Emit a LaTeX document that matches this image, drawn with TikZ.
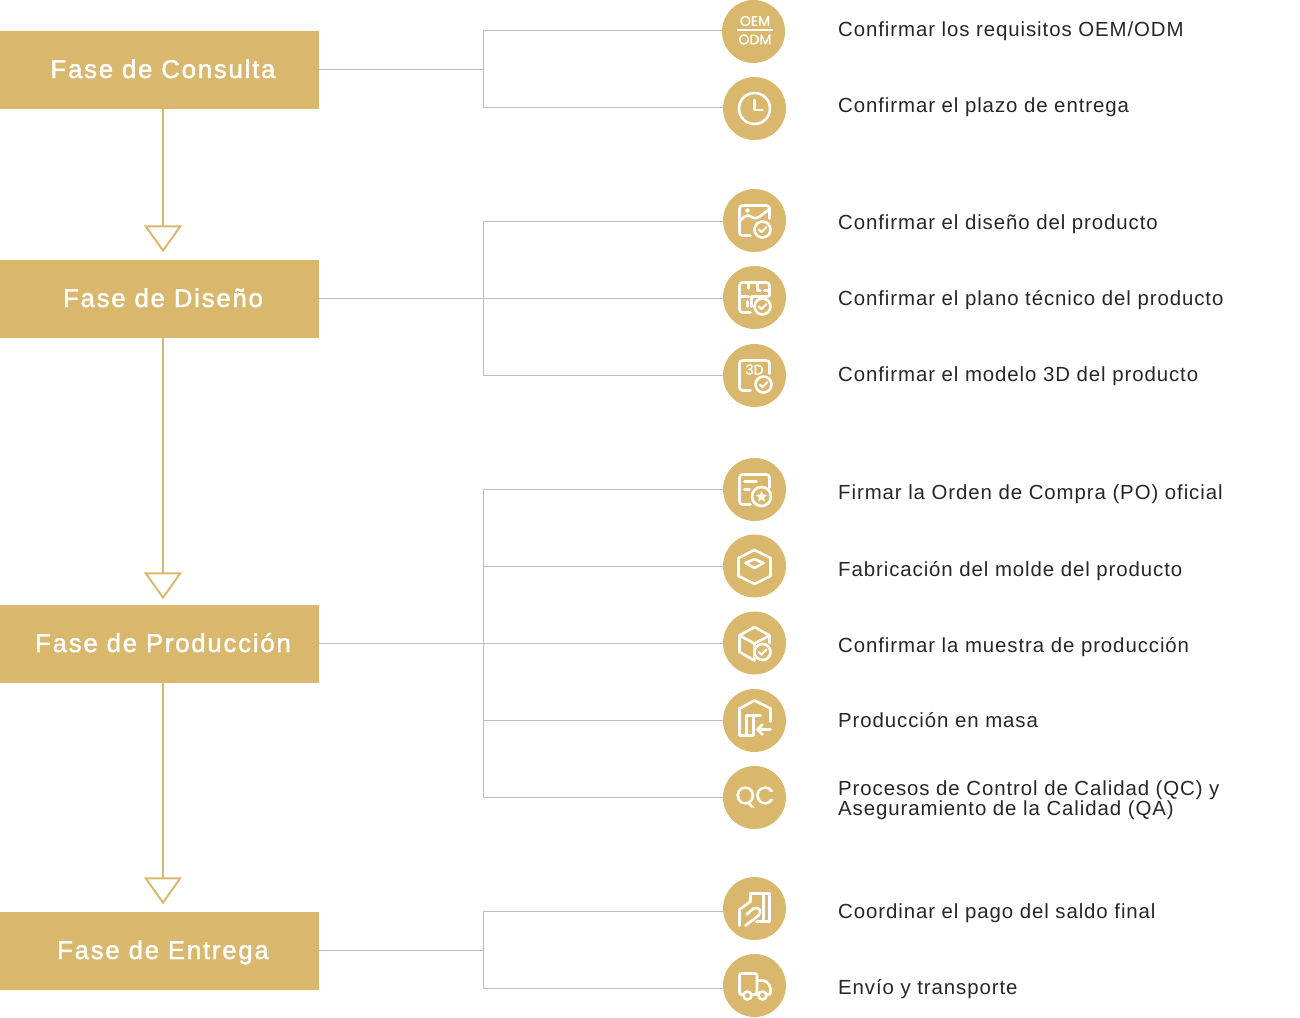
\documentclass[tikz,border=0pt]{standalone}
\usepackage{fontspec}
\setmainfont{Liberation Sans}
\newfontfamily\faseFont[LetterSpace=7,FakeBold=1.6]{Liberation Sans}
\newfontfamily\pasoFont[LetterSpace=4.5]{Liberation Sans}
\newfontfamily\iconFont[FakeBold=1.2]{Poppins}
\usetikzlibrary{arrows.meta,calc}
\definecolor{oro}{HTML}{D9B86D}
\definecolor{gris}{HTML}{BDBDBD}
\tikzstyle{fase}=[fill=oro,text=white,minimum width=319pt,minimum height=78pt,inner sep=0pt,text height=20pt,text depth=4pt,execute at begin node={\hspace*{7pt}},font=\faseFont\fontsize{25.7}{25.7}\selectfont]
\tikzstyle{paso}=[circle,fill=oro,minimum size=63pt,inner sep=0pt]
\tikzstyle{texto}=[anchor=base west,inner sep=0pt,align=left,text=black!85,font=\pasoFont\fontsize{20.4}{20.4}\selectfont]
\tikzstyle{rama}=[gris,line width=1pt]
\tikzstyle{flecha}=[oro,line width=2pt,-{Triangle[open,length=27pt,width=38pt,line width=2pt]}]
\tikzstyle{trazo}=[white,line width=2.6pt,line cap=round,line join=round]
\newcommand{\ramaPaso}[3]{
	\draw[rama] (#1) |- (#2.west |- 0,#3);
}
\newcommand{\marcaOk}[3]{
	\draw[trazo] (#1,#2) circle (#3);
	\draw[trazo,line width=2pt] ($(#1,#2)+(-3.6,0)$) -- ($(#1,#2)+(-1,2.6)$) -- ($(#1,#2)+(3.8,-2.4)$);
}
\newcommand{\hoja}{
	\draw[trazo,rounded corners=3pt] (15,-2) -- (15,-15) -- (-15,-15) -- (-15,15) -- (-4,15);
}
\begin{document}
\begin{tikzpicture}[x=1pt,y=-1pt]
	\useasboundingbox (0,0) rectangle (1300,1017);
	% fases
	\node[fase] (consulta) at (159.5,70) {Fase de Consulta};
	\node[fase] (diseno) at (159.5,299) {Fase de Diseño};
	\node[fase] (produccion) at (159.5,644) {Fase de Producción};
	\node[fase] (entrega) at (159.5,951) {Fase de Entrega};
	\draw[flecha,shorten >=7.5pt] (consulta.south -| 163,0) -- (diseno.north -| 163,0);
	\draw[flecha,shorten >=5.5pt] (diseno.south -| 163,0) -- (produccion.north -| 163,0);
	\draw[flecha,shorten >=7.5pt] (produccion.south -| 163,0) -- (entrega.north -| 163,0);
	% circulos
	\node[paso] (oem) at (753.5,31.5) {};
	\node[paso] (plazo) at (754.5,108.5) {};
	\node[paso] (imagen) at (754.5,220.5) {};
	\node[paso] (plano) at (754.5,297.5) {};
	\node[paso] (modelo) at (754.5,375.5) {};
	\node[paso] (orden) at (754.5,489.5) {};
	\node[paso] (molde) at (754.5,566) {};
	\node[paso] (muestra) at (754.5,643) {};
	\node[paso] (masa) at (754.5,720.5) {};
	\node[paso] (qc) at (754.5,797.5) {};
	\node[paso] (pago) at (754.5,908.5) {};
	\node[paso] (envio) at (754.5,985.5) {};
	% ramas
	\coordinate (r1) at (483,69);
	\coordinate (r2) at (483,298);
	\coordinate (r3) at (483,643);
	\coordinate (r4) at (483,950);
	\draw[rama] (consulta.east |- r1) -- (r1);
	\draw[rama] (diseno.east |- r2) -- (r2);
	\draw[rama] (produccion.east |- r3) -- (r3);
	\draw[rama] (entrega.east |- r4) -- (r4);
	\ramaPaso{r1}{oem}{30}
	\ramaPaso{r1}{plazo}{107}
	\ramaPaso{r2}{imagen}{221}
	\ramaPaso{r2}{plano}{298}
	\ramaPaso{r2}{modelo}{375}
	\ramaPaso{r3}{orden}{489}
	\ramaPaso{r3}{molde}{566}
	\ramaPaso{r3}{muestra}{643}
	\ramaPaso{r3}{masa}{720}
	\ramaPaso{r3}{qc}{797}
	\ramaPaso{r4}{pago}{911}
	\ramaPaso{r4}{envio}{988}
	% textos
	\node[texto] (t1) at (838,36) {Confirmar los requisitos OEM/ODM};
	\node[texto] (t2) at (838,112) {Confirmar el plazo de entrega};
	\node[texto] (t3) at (838,229) {Confirmar el diseño del producto};
	\node[texto] (t4) at (838,305) {Confirmar el plano técnico del producto};
	\node[texto] (t5) at (838,381) {Confirmar el modelo 3D del producto};
	\node[texto] (t6) at (838,499) {Firmar la Orden de Compra (PO) oficial};
	\node[texto] (t7) at (838,576) {Fabricación del molde del producto};
	\node[texto] (t8) at (838,652) {Confirmar la muestra de producción};
	\node[texto] (t9) at (838,727) {Producción en masa};
	\node[texto] (t10a) at (838,795) {Procesos de Control de Calidad (QC) y};
	\node[texto] (t10b) at (838,815) {Aseguramiento de la Calidad (QA)};
	\node[texto] (t11) at (838,918) {Coordinar el pago del saldo final};
	\node[texto] (t12) at (838,994) {Envío y transporte};
	% iconos
	\node[text=white,inner sep=0pt,font=\iconFont\fontsize{14}{14}\selectfont] (oemA) at (755,21) {OEM};
	\node[text=white,inner sep=0pt,font=\iconFont\fontsize{14}{14}\selectfont] (oemB) at (755,39.5) {ODM};
	\draw[trazo,line cap=butt,line width=2pt] (737,30) -- (773,30);
	\begin{scope}[shift={(plazo)}]
		\draw[trazo] (0,0) circle (15.5);
		\draw[trazo] (0,-8.5) -- (0,1.5) -- (8,1.5);
	\end{scope}
	\begin{scope}[shift={(imagen)}]
		\hoja
		\marcaOk{8}{9}{8}
		\fill[white] (-7,-10) circle (2.2);
		\draw[trazo] (-14,0) .. controls (-9,-6) and (-6,-6) .. (-2,-3) .. controls (2,0) and (8,-6) .. (14,-11);
	\end{scope}
	\begin{scope}[shift={(plano)}]
		\hoja
		\marcaOk{8}{9}{8}
		\draw[trazo] (-15,-1) -- (-6,-1);
		\draw[trazo] (-2,-1) -- (14,-1);
		\draw[trazo] (-6,-14) -- (-6,-9);
		\draw[trazo] (3,-14) -- (3,-7) -- (6,-7);
		\draw[trazo] (10,-7) -- (14,-7);
		\draw[trazo] (-3,-1) -- (-3,9);
		\draw[trazo] (-7,4) -- (-7,9);
	\end{scope}
	\begin{scope}[shift={(modelo)}]
		\hoja
		\marcaOk{9}{9}{8}
		\node[text=white,inner sep=0pt,font=\iconFont\fontsize{14}{14}\selectfont] (tresD) at (0,-6) {3D};
	\end{scope}
	\begin{scope}[shift={(orden)}]
		\hoja
		\draw[trazo] (7,7) circle (9.5);
		\fill[white] (7,1.5) -- (8.6,5) -- (12.5,5.5) -- (9.6,8) -- (10.4,12) -- (7,10) -- (3.6,12) -- (4.4,8) -- (1.5,5.5) -- (5.4,5) -- cycle;
		\draw[trazo] (-10,-8) -- (2,-8);
		\draw[trazo] (-10,0) -- (-5,0);
	\end{scope}
	\begin{scope}[shift={(molde)}]
		\draw[trazo] (0,-16) -- (16,-8) -- (16,10) -- (0,18) -- (-16,10) -- (-16,-8) -- cycle;
		\draw[trazo] (-9,-3) -- (0,-7) -- (9,-3) -- (0,2) -- cycle;
	\end{scope}
	\begin{scope}[shift={(muestra)}]
		\draw[trazo] (0,-16) -- (15,-7.5) -- (15,0);
		\draw[trazo] (0,-16) -- (-15,-7.5) -- (-15,9) -- (0,17.5);
		\draw[trazo] (-15,-7.5) -- (0,0.5) -- (15,-7.5);
		\draw[trazo] (0,0.5) -- (0,17.5);
		\fill[oro] (8,9) circle (9.5);
		\marcaOk{8}{9}{8}
	\end{scope}
	\begin{scope}[shift={(masa)}]
		\draw[trazo] (16,1) -- (16,-12) -- (0,-20) -- (-15,-12) -- (-15,15) -- (-8,15) -- (-8,-5) -- (6,-5);
		\draw[trazo] (-1,-5) -- (-1,15) -- (-8,15);
		\draw[trazo] (16,9) -- (3,9);
		\draw[trazo] (8,4) -- (3,9) -- (8,14);
	\end{scope}
	\node[text=white,inner sep=0pt,font=\iconFont\fontsize{25}{25}\selectfont] (qcText) at (755,797) {QC};
	\begin{scope}[shift={(pago)}]
		\draw[trazo] (-4,-7) -- (-4,-15) -- (15,-15) -- (15,13) -- (2,13);
		\draw[trazo] (9,-15) -- (9,13);
		\draw[trazo] (-15,17) -- (-15,1) -- (-4,-7);
		\draw[trazo] (-9,17) -- (4,7) .. controls (8,3) and (4,-3) .. (-1,0) -- (-8,6);
	\end{scope}
	\begin{scope}[shift={(envio)}]
		\draw[trazo,rounded corners=2pt] (-11,9) -- (-15,9) -- (-15,-12) -- (2.5,-12) -- (2.5,9) -- (-3,9);
		\draw[trazo,rounded corners=2pt] (2.5,-5) -- (11,-5) -- (16,1) -- (16,9) -- (12,9);
		\draw[trazo] (2.5,9) -- (4,9);
		\draw[trazo] (-7,10) circle (4);
		\draw[trazo] (8,10) circle (4);
	\end{scope}
\end{tikzpicture}
\end{document}
